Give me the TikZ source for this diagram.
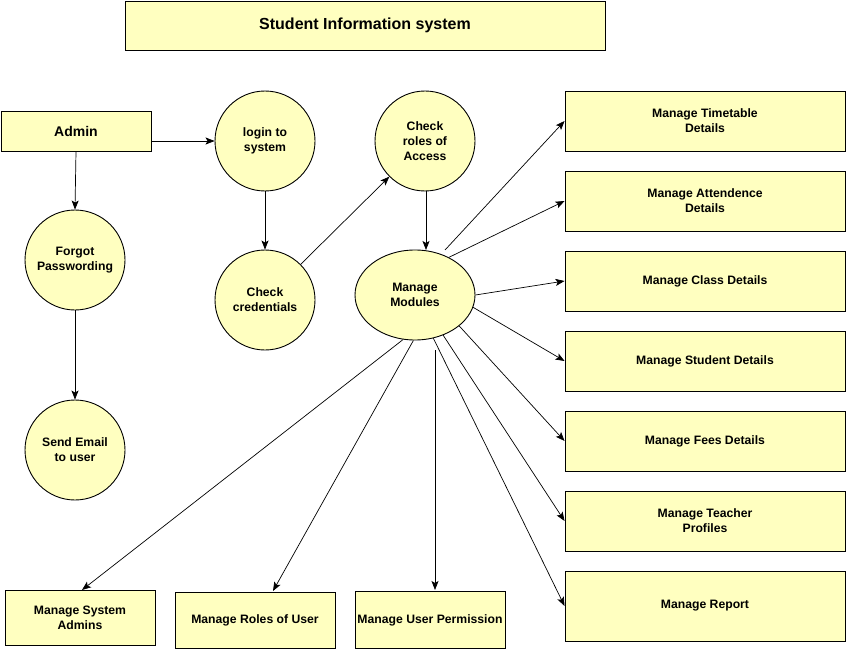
\documentclass[tikz,border=0pt]{standalone}
\usepackage{fontspec}
\setmainfont{Liberation Sans}
\usetikzlibrary{arrows.meta,shapes.geometric}
\definecolor{fillc}{HTML}{FFFFC0}
\begin{document}
\begin{tikzpicture}[x=1pt,y=-1pt,
  base/.style={draw=black,line width=0.9pt,fill=fillc,font=\fontsize{12.2}{15}\selectfont\bfseries,align=center,inner sep=0pt},
  boxr/.style={base,rectangle,minimum width=280pt,minimum height=60pt},
  circ/.style={base,circle,minimum size=100pt},
  arr/.style={-{Stealth[length=9pt,width=7pt,inset=2pt]},line width=0.7pt}]
\useasboundingbox (0,0) rectangle (846,650);
\node[base,minimum width=480pt,minimum height=49pt,font=\fontsize{16}{18}\selectfont\bfseries] (title) at (365,25.5) {Student Information system};
\node[base,minimum width=150pt,minimum height=40pt,font=\fontsize{14}{16}\selectfont\bfseries] (admin) at (76,131) {Admin};
\node[circ] (login) at (265,141) {login to\\system};
\node[circ] (roles) at (425,141) {Check\\roles of\\Access};
\node[circ] (forgot) at (75,260) {Forgot\\Passwording};
\node[circ] (cred) at (265,300) {Check\\credentials};
\node[base,ellipse,minimum width=120pt,minimum height=90pt] (mod) at (415,295) {Manage\\Modules};
\node[circ] (email) at (75,450) {Send Email\\to user};
\node[boxr] (tt) at (705,121) {Manage Timetable\\Details};
\node[boxr] (att) at (705,201) {Manage Attendence\\Details};
\node[boxr] (cls) at (705,281) {Manage Class Details};
\node[boxr] (stu) at (705,361) {Manage Student Details};
\node[boxr] (fee) at (705,441) {Manage Fees Details};
\node[boxr] (tea) at (705,521) {Manage Teacher\\Profiles};
\node[boxr,minimum height=70pt] (rep) at (705,606) {Manage Report};
\node[base,minimum width=150pt,minimum height=55pt] (sys) at (80,617.5) {Manage System\\Admins};
\node[base,minimum width=160pt,minimum height=56pt] (rou) at (255,620) {Manage Roles of User};
\node[base,minimum width=150pt,minimum height=57pt] (perm) at (430,620) {Manage User Permission};
\draw[arr] (admin.east |- login.west) -- (login.west);
\draw[arr] (admin.south) -- (forgot.north);
\draw[arr] (forgot.south) -- (email.north);
\draw[arr] (login.south) -- (cred.north);
\draw[arr] (cred.45) -- (roles.225);
\draw[arr] (426,191) -- (426,250);
\coordinate (m1) at (445,250);
\draw[arr] (m1) -- (tt.west);
\draw[arr] (mod.48) -- (att.west);
\draw[arr] (mod.east) -- (cls.west);
\draw[arr] (mod.-12) -- (stu.west);
\draw[arr] (mod.-35) -- (fee.west);
\draw[arr] (mod.-55) -- (tea.west);
\draw[arr] (mod.-67) -- (rep.west);
\draw[arr] (mod.-105) -- (82,590);
\draw[arr] (mod.-92) -- (273,591);
\draw[arr] (435,350) -- (435,590);
\end{tikzpicture}
\end{document}
